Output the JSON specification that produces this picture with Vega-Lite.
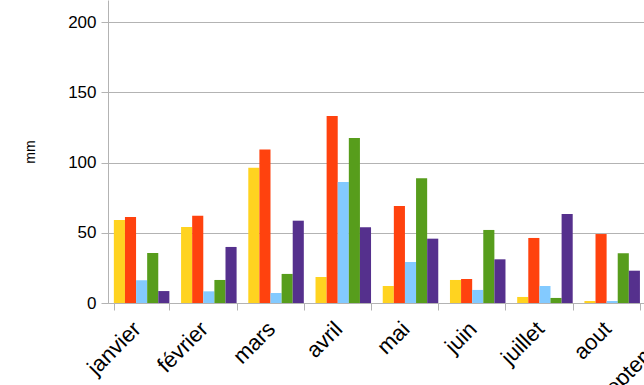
{
  "$schema": "https://vega.github.io/schema/vega-lite/v6.json",
  "width": 605,
  "height": 303,
  "padding": {"left": 23, "top": 0, "right": 0, "bottom": 0},
  "data": {
    "values": [
      {"mois": "janvier", "serie": "série 1", "mm": 59.1},
      {"mois": "janvier", "serie": "série 2", "mm": 61.3},
      {"mois": "janvier", "serie": "série 3", "mm": 16.2},
      {"mois": "janvier", "serie": "série 4", "mm": 35.6},
      {"mois": "janvier", "serie": "série 5", "mm": 8.5},
      {"mois": "février", "serie": "série 1", "mm": 54.1},
      {"mois": "février", "serie": "série 2", "mm": 62.2},
      {"mois": "février", "serie": "série 3", "mm": 8.3},
      {"mois": "février", "serie": "série 4", "mm": 16.4},
      {"mois": "février", "serie": "série 5", "mm": 39.9},
      {"mois": "mars", "serie": "série 1", "mm": 96.2},
      {"mois": "mars", "serie": "série 2", "mm": 109.2},
      {"mois": "mars", "serie": "série 3", "mm": 7.1},
      {"mois": "mars", "serie": "série 4", "mm": 20.7},
      {"mois": "mars", "serie": "série 5", "mm": 58.6},
      {"mois": "avril", "serie": "série 1", "mm": 18.5},
      {"mois": "avril", "serie": "série 2", "mm": 133.2},
      {"mois": "avril", "serie": "série 3", "mm": 86.2},
      {"mois": "avril", "serie": "série 4", "mm": 117.5},
      {"mois": "avril", "serie": "série 5", "mm": 53.9},
      {"mois": "mai", "serie": "série 1", "mm": 12.1},
      {"mois": "mai", "serie": "série 2", "mm": 69.1},
      {"mois": "mai", "serie": "série 3", "mm": 29.2},
      {"mois": "mai", "serie": "série 4", "mm": 88.8},
      {"mois": "mai", "serie": "série 5", "mm": 45.8},
      {"mois": "juin", "serie": "série 1", "mm": 16.4},
      {"mois": "juin", "serie": "série 2", "mm": 17.1},
      {"mois": "juin", "serie": "série 3", "mm": 9.3},
      {"mois": "juin", "serie": "série 4", "mm": 52.0},
      {"mois": "juin", "serie": "série 5", "mm": 31.1},
      {"mois": "juillet", "serie": "série 1", "mm": 4.3},
      {"mois": "juillet", "serie": "série 2", "mm": 46.3},
      {"mois": "juillet", "serie": "série 3", "mm": 12.1},
      {"mois": "juillet", "serie": "série 4", "mm": 3.6},
      {"mois": "juillet", "serie": "série 5", "mm": 63.4},
      {"mois": "aout", "serie": "série 1", "mm": 1.4},
      {"mois": "aout", "serie": "série 2", "mm": 49.1},
      {"mois": "aout", "serie": "série 3", "mm": 1.4},
      {"mois": "aout", "serie": "série 4", "mm": 35.4},
      {"mois": "aout", "serie": "série 5", "mm": 23.0}
    ]
  },
  "mark": {"type": "bar"},
  "encoding": {
    "x": {
      "field": "mois",
      "type": "nominal",
      "scale": {
        "domain": ["janvier", "février", "mars", "avril", "mai", "juin", "juillet", "aout", "septembre"],
        "paddingInner": 0.174,
        "paddingOuter": 0.087
      },
      "axis": {
        "title": null,
        "labelAngle": -45,
        "labelAlign": "right",
        "labelBaseline": "top",
        "labelFontSize": 22,
        "labelOffset": -12,
        "tickBand": "extent",
        "grid": false,
        "tickSize": 7,
        "labelPadding": 8
      }
    },
    "xOffset": {
      "field": "serie",
      "type": "nominal",
      "scale": {"domain": ["série 1", "série 2", "série 3", "série 4", "série 5"], "paddingInner": 0, "paddingOuter": 0}
    },
    "y": {
      "field": "mm",
      "type": "quantitative",
      "scale": {"domain": [0, 215.7], "nice": false},
      "axis": {
        "title": "mm",
        "values": [0, 50, 100, 150, 200],
        "grid": true,
        "tickSize": 7,
        "labelPadding": 5,
        "titlePadding": 30,
        "titleFontSize": 14,
        "titleFontWeight": "normal"
      }
    },
    "color": {
      "field": "serie",
      "type": "nominal",
      "scale": {
        "domain": ["série 1", "série 2", "série 3", "série 4", "série 5"],
        "range": ["#ffd320", "#ff420e", "#83caff", "#579d1c", "#55308d"]
      },
      "legend": null
    }
  },
  "config": {
    "view": {"stroke": null},
    "font": "Liberation Sans",
    "axis": {
      "labelFont": "Liberation Sans",
      "labelFontSize": 17,
      "labelColor": "#000000",
      "titleFont": "Liberation Sans",
      "titleColor": "#000000",
      "domainColor": "#b3b3b3",
      "tickColor": "#b3b3b3",
      "gridColor": "#b3b3b3",
      "domainWidth": 1,
      "tickWidth": 1,
      "gridWidth": 1
    }
  }
}
